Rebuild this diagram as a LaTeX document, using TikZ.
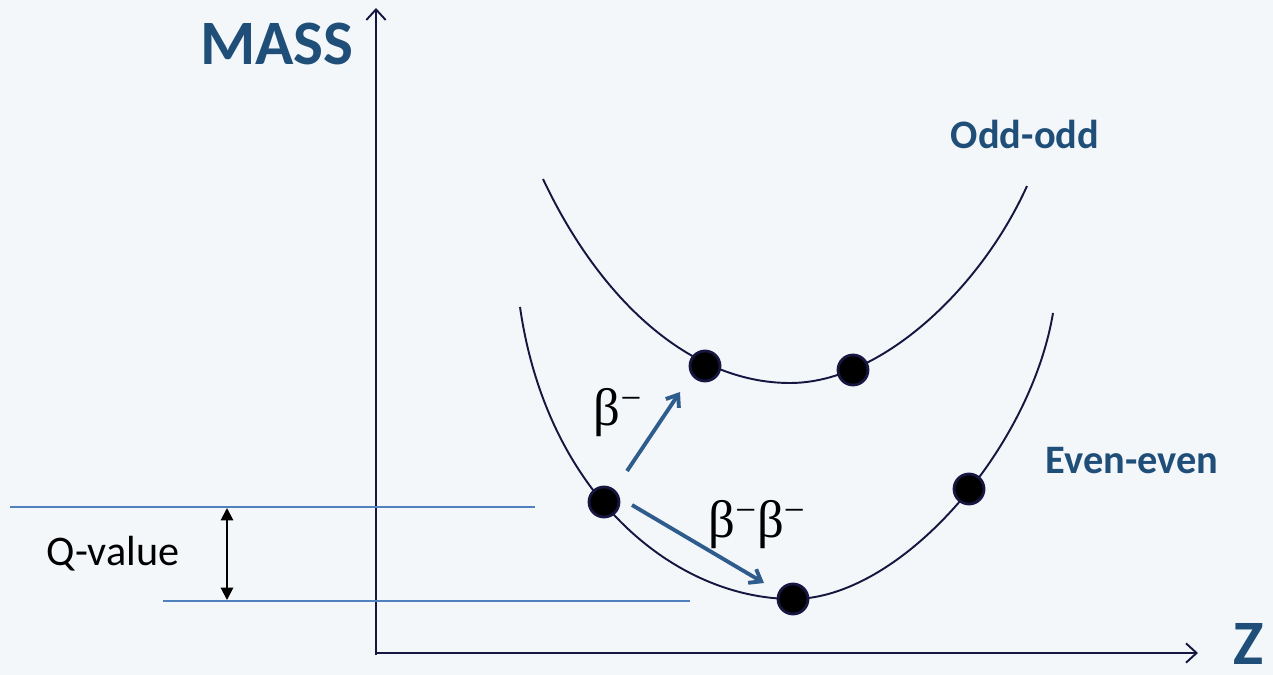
\documentclass[tikz,border=0pt]{standalone}
\usepackage{fontspec}
\setmainfont{Carlito}
\newfontfamily\betafont{Liberation Serif}
\usepackage{tikz}
\usetikzlibrary{arrows.meta,positioning,calc}
\definecolor{cBack}{RGB}{244,247,250}
\definecolor{cNavy}{RGB}{22,22,64}
\definecolor{cTitle}{RGB}{31,78,121}
\definecolor{cLine}{RGB}{79,129,189}
\definecolor{cArrow}{RGB}{46,92,140}
\newcommand{\bminus}{β\textsuperscript{−}}
\tikzset{
  axisarr/.style={-{Straight Barb[length=6pt,width=11pt]},line width=1.1pt,color=cNavy},
  curve/.style={line width=1.1pt,color=cNavy},
  dotnode/.style={circle,fill=black,draw=cNavy,line width=1.6pt,
                  minimum size=0.6cm,inner sep=0pt},
  title/.style={font=\fontsize{36}{40}\selectfont\bfseries,text=cTitle},
  famlabel/.style={font=\fontsize{23}{27}\selectfont\bfseries,text=cTitle},
  decarr/.style={-{Straight Barb[length=6pt,width=9pt]},line width=2.2pt,color=cArrow},
  decname/.style={font=\betafont\fontsize{30}{33}\selectfont},
  levelline/.style={line width=1.1pt,color=cLine},
  qarr/.style={{Triangle[length=7pt,width=7pt]}-{Triangle[length=7pt,width=7pt]},
               line width=1.1pt,color=black}
}

\begin{document}
\begin{tikzpicture}[x={(0.02cm,0)},y={(0,-0.02cm)}]

  % frame
  \fill[cBack] (0,0) rectangle (1273,675);
  \useasboundingbox (0,0) rectangle (1273,675);

  % axes
  \coordinate (origin) at (376,653);
  \coordinate (ytip) at (376,8);
  \coordinate (xtip) at (1198,653);
  \draw[axisarr] ($(origin)+(0,2)$) -- (ytip);
  \draw[axisarr] (origin) -- (xtip);
  \node[title] (mass) at (277,44) {MASS};
  \node[title,inner sep=0pt] (zlab) at (1249,644) {Z};

  % odd-odd parabola
  \draw[curve] (543,179) .. controls (600,300) and (690,383) .. (790,383)
                         .. controls (880,383) and (980,290) .. (1027,186);
  \node[dotnode] (oo1) at (705,366) {};
  \node[dotnode] (oo2) at (853,370) {};
  \node[famlabel] (odd) at (1025,134) {Odd-odd};

  % even-even parabola
  \draw[curve] (520,307) .. controls (547,495) and (675,599) .. (793,599)
                         .. controls (900,599) and (1030,450) .. (1053,313);
  \node[dotnode] (ee1) at (604,502) {};
  \node[dotnode] (ee2) at (793,599) {};
  \node[dotnode] (ee3) at (969,489) {};
  \node[famlabel] (even) at (1132,461) {Even-even};

  % decays
  \draw[decarr] ($(ee1)+(23,-31)$) -- ($(oo1)+(-25,26)$);
  \node[decname] (bm) at (618,413) {\bminus};
  \draw[decarr] ($(ee1)+(28,3)$) -- ($(ee2)+(-29,-16)$);
  \node[decname] (bbm) at (757,525) {\bminus\bminus};

  % Q-value
  \coordinate (qtopL) at (10,507);
  \coordinate (qtopR) at (535,507);
  \coordinate (qbotL) at (163,601);
  \coordinate (qbotR) at (690,601);
  \draw[levelline] (qtopL) -- (qtopR);
  \draw[levelline] (qbotL) -- (qbotR);
  \draw[qarr] (227,508) -- (227,600);
  \node[font=\fontsize{24}{28}\selectfont] (qval) at (113,554) {Q-value};

\end{tikzpicture}
\end{document}
